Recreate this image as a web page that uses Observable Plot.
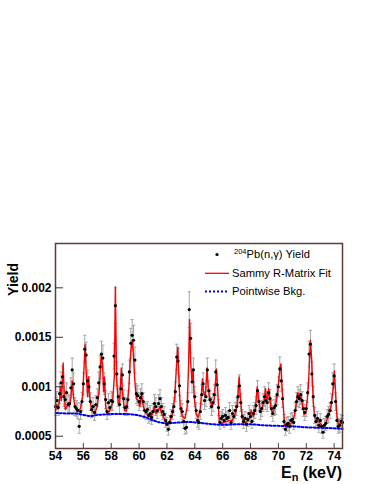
<!DOCTYPE html>
<html><head><meta charset="utf-8">
<script src="https://cdn.jsdelivr.net/npm/d3@7"></script>
<script src="https://cdn.jsdelivr.net/npm/@observablehq/plot@0.6"></script>
<style>body{margin:0;background:#fff} #chart{width:374px;height:484px}</style>
</head><body><div id="chart"></div>
<script>
// Neutron energy (keV) of each measured point
const energies = [
54.0,54.1,54.2,54.3,54.4,54.5,54.6,54.7,54.8,54.9,
55.0,55.1,55.2,55.3,55.4,55.5,55.6,55.7,55.8,55.9,
56.0,56.1,56.2,56.3,56.4,56.5,56.6,56.7,56.8,56.9,
57.0,57.1,57.2,57.3,57.4,57.5,57.6,57.7,57.8,57.9,
58.0,58.1,58.2,58.3,58.4,58.5,58.6,58.7,58.8,58.9,
59.0,59.1,59.2,59.3,59.4,59.5,59.6,59.7,59.8,59.9,
60.0,60.1,60.2,60.3,60.4,60.5,60.6,60.7,60.8,60.9,
61.0,61.1,61.2,61.3,61.4,61.5,61.6,61.7,61.8,61.9,
62.0,62.1,62.2,62.3,62.4,62.5,62.6,62.7,62.8,62.9,
63.0,63.1,63.2,63.3,63.4,63.5,63.6,63.7,63.8,63.9,
64.0,64.1,64.2,64.3,64.4,64.5,64.6,64.7,64.8,64.9,
65.0,65.1,65.2,65.3,65.4,65.5,65.6,65.7,65.8,65.9,
66.0,66.1,66.2,66.3,66.4,66.5,66.6,66.7,66.8,66.9,
67.0,67.1,67.2,67.3,67.4,67.5,67.6,67.7,67.8,67.9,
68.0,68.1,68.2,68.3,68.4,68.5,68.6,68.7,68.8,68.9,
69.0,69.1,69.2,69.3,69.4,69.5,69.6,69.7,69.8,69.9,
70.0,70.1,70.2,70.3,70.4,70.5,70.6,70.7,70.8,70.9,
71.0,71.1,71.2,71.3,71.4,71.5,71.6,71.7,71.8,71.9,
72.0,72.1,72.2,72.3,72.4,72.5,72.6,72.7,72.8,72.9,
73.0,73.1,73.2,73.3,73.4,73.5,73.6,73.7,73.8,73.9,
74.0,74.1,74.2,74.3,74.4,74.5,74.6];
// Measured yield, in units of 1e-4
const yields = [
8.0,8.6,7.9,9.3,10.4,11.0,9.0,8.7,9.4,8.2,
8.3,9.9,11.7,10.3,8.0,7.8,7.6,6.0,7.5,8.5,
10.3,13.8,13.2,10.6,10.0,8.5,7.7,8.0,7.4,8.2,
8.9,10.4,12.0,13.3,12.9,10.3,8.7,7.5,8.4,7.9,
8.6,8.5,13.1,18.2,11.3,9.0,8.2,9.8,11.2,8.8,
7.9,8.0,8.7,11.5,14.4,15.2,14.7,12.7,9.3,9.1,
8.5,8.9,9.3,8.5,7.6,7.5,7.7,7.1,7.3,6.9,
7.5,8.3,8.0,7.6,8.3,8.8,8.0,7.5,7.2,6.6,
6.2,5.7,6.4,7.0,7.5,8.0,9.5,13.0,12.6,10.1,
7.8,7.5,6.5,5.8,5.9,8.5,17.8,14.9,10.5,11.7,
9.0,7.6,6.6,6.4,7.5,9.2,10.3,8.6,9.0,11.7,
9.6,8.7,8.0,8.4,9.2,11.5,10.2,7.9,6.4,6.8,
7.0,6.6,7.1,6.8,6.9,7.6,6.4,7.3,7.0,7.6,
8.0,9.0,10.1,8.4,7.0,6.5,6.8,6.2,6.7,7.3,
7.0,6.5,7.3,7.6,8.1,9.6,8.5,7.5,7.8,8.4,
9.0,8.6,8.4,9.4,8.8,7.8,7.3,7.9,8.1,9.2,
10.0,11.8,10.6,8.8,6.5,5.7,6.2,6.3,6.0,6.6,
6.7,6.4,7.6,8.5,9.0,8.8,9.2,8.6,7.8,7.4,
7.8,9.4,13.3,14.3,11.3,9.0,7.1,6.5,6.8,6.1,
6.6,6.0,5.4,6.1,6.3,7.0,7.2,7.6,8.4,10.3,
11.1,8.5,6.6,6.0,6.1,6.5,6.4];
// Statistical uncertainty, in units of 1e-4
const errors = [
0.9,0.9,0.8,1.0,1.1,1.1,1.0,0.9,1.0,0.9,
0.9,1.0,1.2,1.1,0.9,0.8,0.8,0.7,0.8,0.9,
1.1,1.4,1.3,1.1,1.0,0.9,0.8,0.9,0.8,0.9,
0.9,1.1,1.2,1.3,1.3,1.1,0.9,0.8,0.9,0.8,
0.9,0.9,1.3,1.8,1.2,1.0,0.9,1.0,1.1,0.9,
0.8,0.9,0.9,1.2,1.5,1.6,1.5,1.3,1.0,1.0,
0.9,0.9,1.0,0.9,0.8,0.8,0.8,0.8,0.8,0.7,
0.8,0.9,0.9,0.8,0.9,0.9,0.9,0.8,0.8,0.7,
0.7,0.6,0.7,0.7,0.8,0.9,1.0,1.3,1.3,1.0,
0.8,0.8,0.7,0.6,0.6,0.9,1.8,1.5,1.1,1.2,
1.0,0.8,0.7,0.7,0.8,1.0,1.1,0.9,1.0,1.2,
1.0,0.9,0.9,0.9,1.0,1.2,1.1,0.8,0.7,0.7,
0.7,0.7,0.8,0.7,0.7,0.8,0.7,0.8,0.7,0.8,
0.9,1.0,1.1,0.9,0.7,0.7,0.7,0.7,0.7,0.8,
0.7,0.7,0.8,0.8,0.9,1.0,0.9,0.8,0.8,0.9,
1.0,0.9,0.9,1.0,0.9,0.8,0.8,0.8,0.9,1.0,
1.0,1.2,1.1,0.9,0.7,0.6,0.7,0.7,0.7,0.7,
0.7,0.7,0.8,0.9,1.0,0.9,1.0,0.9,0.8,0.8,
0.8,1.0,1.3,1.4,1.2,1.0,0.8,0.7,0.7,0.7,
0.7,0.7,0.6,0.7,0.7,0.7,0.8,0.8,0.9,1.1,
1.2,0.9,0.7,0.7,0.7,0.7,0.7];
// SAMMY R-matrix fit curve vertices (keV, yield in 1e-4)
const fitE = [54.0,54.1,54.2,54.3,54.35,54.42,54.5,54.55,54.62,54.7,54.8,54.9,55.0,55.1,55.2,55.27,55.4,55.6,55.8,55.95,
56.05,56.12,56.2,56.3,56.38,56.45,56.6,56.8,57.0,57.15,57.28,57.38,57.45,57.52,57.6,57.7,57.9,58.1,58.22,58.3,
58.38,58.5,58.6,58.72,58.8,58.95,59.1,59.25,59.4,59.5,59.58,59.7,59.8,59.95,60.05,60.18,60.3,60.5,60.8,60.95,
61.08,61.2,61.4,61.5,61.6,61.8,62.0,62.2,62.4,62.55,62.7,62.78,62.85,62.95,63.1,63.3,63.45,63.55,63.62,63.7,
63.8,63.88,63.95,64.1,64.25,64.4,64.55,64.62,64.75,64.88,64.95,65.1,65.25,65.4,65.55,65.65,65.75,65.9,66.1,66.3,
66.5,66.7,66.9,67.05,67.18,67.27,67.4,67.6,67.8,67.95,68.05,68.2,68.35,68.48,68.56,68.7,68.85,69.0,69.08,69.15,
69.22,69.3,69.38,69.5,69.6,69.8,69.95,70.1,70.18,70.3,70.45,70.6,70.8,71.0,71.15,71.3,71.4,71.5,71.6,71.72,
71.85,72.0,72.15,72.3,72.38,72.5,72.6,72.8,73.0,73.2,73.4,73.6,73.8,73.95,74.02,74.1,74.2,74.3,74.45,74.6];
const fitY = [7.6,8.2,7.8,8.8,10.0,8.6,10.5,12.4,9.5,7.7,7.9,8.4,8.0,8.8,10.6,9.2,7.9,7.6,7.8,9.0,
12.0,14.3,11.5,9.0,11.0,9.0,7.6,7.3,8.0,9.8,13.2,12.2,9.5,11.0,8.0,7.3,7.6,8.4,11.0,20.1,
11.0,8.3,8.2,11.9,9.5,7.6,7.6,9.5,13.5,14.7,13.5,10.5,8.8,8.6,8.0,9.2,8.0,7.3,7.0,7.2,
8.0,7.3,7.6,8.0,7.3,6.8,6.3,6.5,7.3,8.8,12.5,14.0,11.0,8.0,7.0,6.8,8.0,12.0,16.8,12.5,
10.5,11.8,9.0,7.2,6.9,7.8,10.8,9.5,9.0,11.9,10.0,8.5,8.0,8.8,11.8,9.5,6.5,6.3,6.4,6.5,
6.6,6.6,7.3,8.2,11.0,9.0,6.8,6.4,6.5,6.9,7.6,7.0,7.8,10.0,9.0,7.5,7.9,8.8,9.8,8.6,
8.8,9.8,8.8,7.6,7.4,8.2,9.5,11.8,12.3,9.0,6.1,5.9,6.1,6.5,7.1,8.5,9.4,8.7,9.2,8.2,
7.2,7.6,10.0,14.7,13.0,8.5,6.9,6.6,6.3,6.0,6.3,7.2,8.2,10.0,11.6,9.5,7.0,6.2,6.3,6.9];
// Pointwise background (keV, yield in 1e-4)
const bkgE = [54.0,55.0,55.5,56.0,56.5,57.0,57.5,58.0,59.0,59.5,60.0,60.5,61.0,61.5,62.0,62.5,63.0,63.5,64.0,65.0,66.0,67.0,68.0,69.0,70.0,71.0,72.0,73.0,74.0,74.6];
const bkgY = [7.35,7.3,7.3,7.15,7.05,7.15,7.2,7.25,7.25,7.2,7.1,6.9,6.6,6.4,6.3,6.35,6.4,6.45,6.4,6.25,6.15,6.2,6.2,6.1,6.05,6.0,5.9,5.85,5.8,5.75];

const xTicks = [54,56,58,60,62,64,66,68,70,72,74];
const yTicks = [0.0005,0.001,0.0015,0.002];
const yTickLabels = ["0.0005","0.001","0.0015","0.002"];
const legendLabels = ["Sammy R-Matrix Fit","Pointwise Bkg."];

const U = 1e-4;
const pts = energies.map((e,i)=>({E:e, y:yields[i]*U, lo:(yields[i]-errors[i])*U, hi:(yields[i]+errors[i])*U}));
const fit = fitE.map((e,i)=>({E:e, y:fitY[i]*U}));
const bkg = bkgE.map((e,i)=>({E:e, y:bkgY[i]*U}));

const cap = {draw(ctx){ ctx.moveTo(-1.6,0); ctx.lineTo(1.6,0); }};
const F = "'Liberation Sans', Arial, Helvetica, sans-serif";

const plot = Plot.plot({
  width:374, height:484,
  marginTop:243, marginLeft:55, marginRight:32, marginBottom:36,
  style:{fontFamily:F, background:"white", color:"black"},
  x:{domain:[54,74.6]},
  y:{domain:[0.000376,0.002448]},
  marks:[
    Plot.ruleX(pts,{x:"E", y1:"lo", y2:"hi", stroke:"#a8a8a8", strokeWidth:1}),
    Plot.dot(pts,{x:"E", y:"hi", symbol:cap, r:2, fill:"none", stroke:"#a8a8a8", strokeWidth:1}),
    Plot.dot(pts,{x:"E", y:"lo", symbol:cap, r:2, fill:"none", stroke:"#a8a8a8", strokeWidth:1}),
    Plot.line(fit,{x:"E", y:"y", stroke:"#ff0000", strokeWidth:1.4}),
    Plot.line(bkg,{x:"E", y:"y", stroke:"#0000ff", strokeWidth:2, strokeDasharray:"2,2", curve:"monotone-x"}),
    Plot.dot(pts,{x:"E", y:"y", r:1.6, fill:"black", stroke:"none"}),
    Plot.frame({stroke:"#5e3a3a", strokeWidth:1.5}),
    Plot.axisX({ticks:xTicks, tickSize:0, tickPadding:3, fontSize:12, fontWeight:"bold", label:null}),
    Plot.axisX({ticks:xTicks, tickSize:-5, tickFormat:()=>"", label:null, stroke:"#5e3a3a"}),
    Plot.axisY({ticks:yTicks, tickFormat:(d)=>yTickLabels[yTicks.indexOf(d)], tickSize:0, tickPadding:4, fontSize:12, fontWeight:"bold", label:null}),
    Plot.axisY({ticks:yTicks, tickSize:-8, tickFormat:()=>"", label:null, stroke:"#333"})
  ]
});
document.getElementById("chart").appendChild(plot);

const svg = d3.select(plot);
// axis titles
svg.append("text").attr("transform","translate(18,263) rotate(-90)").attr("text-anchor","end")
  .attr("font-family",F).attr("font-weight","bold").attr("font-size",14).text("Yield");
const xl = svg.append("text").attr("x",342).attr("y",478).attr("text-anchor","end")
  .attr("font-family",F).attr("font-weight","bold").attr("font-size",16);
xl.append("tspan").text("E");
xl.append("tspan").attr("font-size",11).attr("dy",3).text("n");
xl.append("tspan").attr("dy",-3).text(" (keV)");
// legend
const lg = svg.append("g").attr("font-family",F).attr("font-size",11.2).attr("fill","black").attr("text-anchor","start");
lg.append("circle").attr("cx",217).attr("cy",254.5).attr("r",1.6).attr("fill","black");
const t1 = lg.append("text").attr("x",234).attr("y",258.3);
t1.append("tspan").attr("font-size",7.5).attr("dy",-4).text("204");
t1.append("tspan").attr("dy",4).text("Pb(n,γ) Yield");
lg.append("line").attr("x1",205).attr("x2",229).attr("y1",273.3).attr("y2",273.3).attr("stroke","#ff0000").attr("stroke-width",1.3);
lg.append("text").attr("x",232).attr("y",276.8).text(legendLabels[0]);
lg.append("line").attr("x1",205).attr("x2",229).attr("y1",291.5).attr("y2",291.5).attr("stroke","#0000ff").attr("stroke-width",2).attr("stroke-dasharray","2,2");
lg.append("text").attr("x",232).attr("y",295).text(legendLabels[1]);
</script>
</body></html>
